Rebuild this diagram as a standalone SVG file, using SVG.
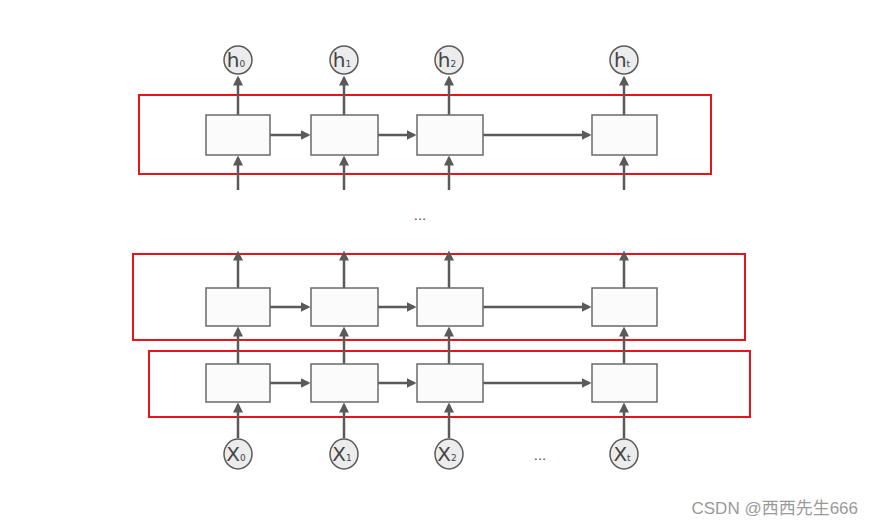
<svg xmlns="http://www.w3.org/2000/svg" width="873" height="526" viewBox="0 0 873 526">
<style>
.box{fill:#fbfbfb;stroke:#6a6a6a;stroke-width:1.5}
.red{fill:none;stroke:#e8141c;stroke-width:2}
.ln line{stroke:#5a5a5a;stroke-width:2.5;marker-end:url(#ah)}
.c{fill:#ececec;stroke:#5a5a5a;stroke-width:1.5}
.t{font-family:"DejaVu Sans",sans-serif;font-size:20px;fill:#444;text-anchor:middle}
.s{font-size:9px}
</style>
<defs><marker id="ah" markerWidth="4" markerHeight="4" refX="3" refY="2" orient="auto"><path d="M0,0L4,2L0,4z" fill="#5a5a5a"/></marker></defs>
<rect width="873" height="526" fill="#fff"/>
<g id="layers">
<rect class="red" x="139" y="95" width="572" height="79"/>
<rect class="red" x="133" y="254" width="612" height="86"/>
<rect class="red" x="149" y="351" width="601" height="66"/>
</g>
<g id="connectors" class="ln">
<line x1="238" y1="115" x2="238" y2="78"/><line x1="344" y1="115" x2="344" y2="78"/><line x1="449" y1="115" x2="449" y2="78"/><line x1="624" y1="115" x2="624" y2="78"/>
<line x1="238" y1="190" x2="238" y2="158"/><line x1="344" y1="190" x2="344" y2="158"/><line x1="449" y1="190" x2="449" y2="158"/><line x1="624" y1="190" x2="624" y2="158"/>
<line x1="238" y1="288" x2="238" y2="253"/><line x1="344" y1="288" x2="344" y2="253"/><line x1="449" y1="288" x2="449" y2="253"/><line x1="624" y1="288" x2="624" y2="253"/>
<line x1="238" y1="364" x2="238" y2="329"/><line x1="344" y1="364" x2="344" y2="329"/><line x1="449" y1="364" x2="449" y2="329"/><line x1="624" y1="364" x2="624" y2="329"/>
<line x1="238" y1="438" x2="238" y2="405"/><line x1="344" y1="438" x2="344" y2="405"/><line x1="449" y1="438" x2="449" y2="405"/><line x1="624" y1="438" x2="624" y2="405"/>
<line x1="270" y1="135" x2="308" y2="135"/><line x1="378" y1="135" x2="414" y2="135"/><line x1="483" y1="135" x2="589" y2="135"/>
<line x1="270" y1="307" x2="308" y2="307"/><line x1="378" y1="307" x2="414" y2="307"/><line x1="483" y1="307" x2="589" y2="307"/>
<line x1="270" y1="383" x2="308" y2="383"/><line x1="378" y1="383" x2="414" y2="383"/><line x1="483" y1="383" x2="589" y2="383"/>
</g>
<g id="cells">
<rect class="box" x="206" y="115" width="64" height="40"/><rect class="box" x="311" y="115" width="67" height="40"/><rect class="box" x="417" y="115" width="66" height="40"/><rect class="box" x="592" y="115" width="65" height="40"/>
<rect class="box" x="206" y="288" width="64" height="38"/><rect class="box" x="311" y="288" width="67" height="38"/><rect class="box" x="417" y="288" width="66" height="38"/><rect class="box" x="592" y="288" width="65" height="38"/>
<rect class="box" x="206" y="364" width="64" height="38"/><rect class="box" x="311" y="364" width="67" height="38"/><rect class="box" x="417" y="364" width="66" height="38"/><rect class="box" x="592" y="364" width="65" height="38"/>
</g>
<g id="h0"><circle class="c" cx="238" cy="60" r="14"/><text class="t" x="236" y="67">h<tspan class="s">0</tspan></text></g>
<g id="h1"><circle class="c" cx="344" cy="60" r="14"/><text class="t" x="342" y="67">h<tspan class="s">1</tspan></text></g>
<g id="h2"><circle class="c" cx="449" cy="60" r="14"/><text class="t" x="447" y="67">h<tspan class="s">2</tspan></text></g>
<g id="ht"><circle class="c" cx="624" cy="60" r="14"/><text class="t" x="622" y="67">h<tspan class="s">t</tspan></text></g>
<g id="x0"><ellipse class="c" cx="238" cy="454" rx="14" ry="15"/><text class="t" x="236" y="461">X<tspan class="s">0</tspan></text></g>
<g id="x1"><ellipse class="c" cx="344" cy="454" rx="14" ry="15"/><text class="t" x="342" y="461">X<tspan class="s">1</tspan></text></g>
<g id="x2"><ellipse class="c" cx="449" cy="454" rx="14" ry="15"/><text class="t" x="447" y="461">X<tspan class="s">2</tspan></text></g>
<g id="xt"><ellipse class="c" cx="624" cy="454" rx="14" ry="15"/><text class="t" x="622" y="461">X<tspan class="s">t</tspan></text></g>
<text x="420" y="220" font-family="DejaVu Sans,sans-serif" font-size="13" fill="#444" text-anchor="middle">...</text>
<text x="540" y="460" font-family="DejaVu Sans,sans-serif" font-size="13" fill="#444" text-anchor="middle">...</text>
<text x="858" y="514" font-family="Liberation Sans,Noto Sans CJK SC,sans-serif" font-size="17" fill="#9a9a9a" text-anchor="end">CSDN @西西先生666</text>
</svg>
